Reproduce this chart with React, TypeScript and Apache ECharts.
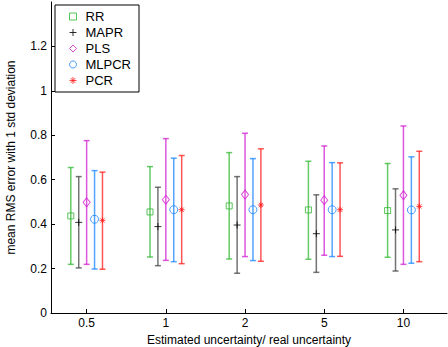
import React, { useEffect, useRef } from "react";
import * as echarts from "echarts";

const categories = ["0.5", "1", "2", "5", "10"];
const seriesNames = ["RR", "MAPR", "PLS", "MLPCR", "PCR"];
const seriesColors = ["#2fb52f", "#000000", "#d21fd2", "#1a85ff", "#ff1c1c"];
const barColors = ["#33b833", "#444444", "#d21fd2", "#1a85ff", "#ff1c1c"];

const means = [
  [0.437, 0.455, 0.482, 0.464, 0.461], // RR
  [0.408, 0.389, 0.396, 0.357, 0.374], // MAPR
  [0.498, 0.51, 0.533, 0.508, 0.53], // PLS
  [0.422, 0.465, 0.465, 0.465, 0.464], // MLPCR
  [0.417, 0.465, 0.486, 0.465, 0.48], // PCR
];
const uppers = [
  [0.655, 0.659, 0.722, 0.683, 0.673],
  [0.614, 0.566, 0.614, 0.532, 0.559],
  [0.776, 0.785, 0.809, 0.752, 0.842],
  [0.641, 0.697, 0.695, 0.677, 0.703],
  [0.634, 0.709, 0.739, 0.676, 0.728],
];
const lowers = [
  [0.219, 0.252, 0.243, 0.242, 0.251],
  [0.203, 0.213, 0.179, 0.183, 0.189],
  [0.219, 0.237, 0.254, 0.26, 0.219],
  [0.198, 0.231, 0.236, 0.254, 0.224],
  [0.197, 0.222, 0.233, 0.255, 0.231],
];
const yTicks = [0, 0.2, 0.4, 0.6, 0.8, 1, 1.2];

const offsets = [-0.2, -0.1, 0, 0.1, 0.2];

const plusPath = "path://M0,5L10,5M5,0L5,10";
const starPath = "path://M0,5L10,5M5,0L5,10M1.5,1.5L8.5,8.5M1.5,8.5L8.5,1.5";
const symbols = ["rect", plusPath, "diamond", "circle", starPath];
const symbolSizes: any[] = [6, 7, [7, 9], 8, 6];
const legendIcons = ["rect", plusPath, "diamond", "circle", starPath];

const FONT = "'Liberation Sans', Arial, Helvetica, sans-serif";

export default function App() {
  const ref = useRef<HTMLDivElement>(null);
  useEffect(() => {
    if (!ref.current) return;
    const chart = echarts.init(ref.current, undefined, { renderer: "svg" });
    const series: any[] = [];
    seriesNames.forEach((name, s) => {
      const data = categories.map((_, i) => [i + 1 + offsets[s], lowers[s][i], uppers[s][i]]);
      series.push({
        type: "custom",
        name: name + "_err",
        silent: true,
        z: 1,
        data,
        renderItem: (params: any, api: any) => {
          const x = api.value(0);
          const lo = api.coord([x, api.value(1)]);
          const hi = api.coord([x, api.value(2)]);
          const w = 3;
          const style = { stroke: barColors[s], lineWidth: 1.5, opacity: 0.75 };
          return {
            type: "group",
            children: [
              { type: "line", shape: { x1: lo[0], y1: lo[1], x2: hi[0], y2: hi[1] }, style },
              { type: "line", shape: { x1: lo[0] - w, y1: lo[1], x2: lo[0] + w, y2: lo[1] }, style },
              { type: "line", shape: { x1: hi[0] - w, y1: hi[1], x2: hi[0] + w, y2: hi[1] }, style },
            ],
          };
        },
      });
      const filled = s === 4;
      series.push({
        type: "scatter",
        name,
        z: 3,
        symbol: symbols[s],
        symbolSize: symbolSizes[s],
        data: categories.map((_, i) => [i + 1 + offsets[s], means[s][i]]),
        itemStyle: {
          color: filled ? seriesColors[s] : "rgba(255,255,255,0)",
          borderColor: seriesColors[s],
          borderWidth: 1,
        },
      });
    });

    chart.setOption({
      animation: false,
      textStyle: { fontFamily: FONT },
      grid: { left: 51, right: 1, top: 2, bottom: 34, containLabel: false, outerBoundsMode: "none" },
      legend: {
        orient: "vertical",
        left: 55,
        top: 5,
        width: 84,
        padding: [5, 8, 5, 14],
        backgroundColor: "#ffffff",
        borderColor: "#000",
        borderWidth: 1,
        borderRadius: 0,
        itemWidth: 7,
        itemHeight: 7,
        itemGap: 3,
        textStyle: { fontFamily: FONT, fontSize: 13, color: "#000", padding: [0, 0, 0, 4] },
        data: seriesNames.map((n, s) => ({
          name: n,
          icon: legendIcons[s],
          itemStyle: {
            color: s === 4 ? seriesColors[s] : "rgba(255,255,255,0)",
            borderColor: seriesColors[s],
            borderWidth: 1,
          },
        })),
      },
      xAxis: {
        type: "value",
        min: 0.55,
        max: 5.55,
        name: "Estimated uncertainty/ real uncertainty",
        nameLocation: "middle",
        nameGap: 17,
        nameTextStyle: { fontFamily: FONT, fontSize: 12, color: "#000" },
        axisLine: { show: true, onZero: false, lineStyle: { color: "#000", width: 1 } },
        axisTick: { show: true, inside: true, length: 4, customValues: [1, 2, 3, 4, 5], lineStyle: { color: "#000" } },
        axisLabel: {
          customValues: [1, 2, 3, 4, 5],
          formatter: (v: number) => categories[Math.round(v) - 1] ?? "",
          fontFamily: FONT,
          fontSize: 12,
          color: "#000",
          margin: 4,
        },
        splitLine: { show: false },
      },
      yAxis: {
        type: "value",
        min: 0,
        max: 1.4,
        name: "mean RMS error with 1 std deviation",
        nameLocation: "middle",
        nameGap: 34,
        nameTextStyle: { fontFamily: FONT, fontSize: 12, color: "#000" },
        axisLine: { show: true, lineStyle: { color: "#000", width: 1 } },
        axisTick: { show: true, inside: true, length: 4, customValues: yTicks, lineStyle: { color: "#000" } },
        axisLabel: {
          customValues: yTicks,
          formatter: (v: number) => String(Math.round(v * 10) / 10),
          fontFamily: FONT,
          fontSize: 12,
          color: "#000",
          margin: 4,
        },
        splitLine: { show: false },
      },
      series,
    });
    return () => chart.dispose();
  }, []);
  return <div ref={ref} style={{ width: 448, height: 347, position: "absolute", left: 0, top: 0, background: "#fff" }} />;
}
